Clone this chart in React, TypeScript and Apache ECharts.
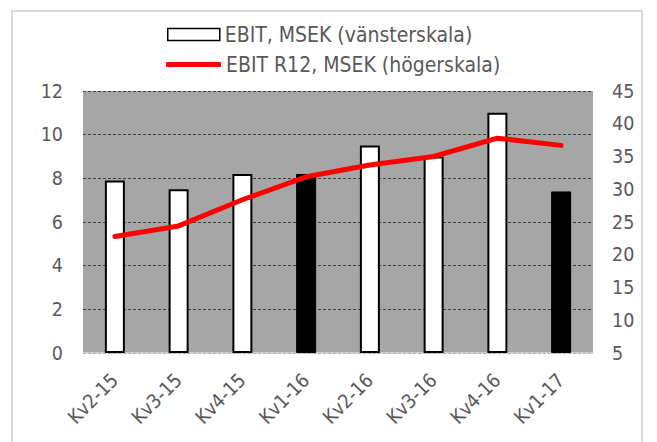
import React, { useEffect, useRef } from "react";
import * as echarts from "echarts";

const categories = ["Kv2-15", "Kv3-15", "Kv4-15", "Kv1-16", "Kv2-16", "Kv3-16", "Kv4-16", "Kv1-17"];
const ebit = [7.9, 7.5, 8.2, 8.2, 9.5, 9.0, 11.0, 7.4];
const ebitR12 = [22.8, 24.4, 28.4, 31.9, 33.7, 35.0, 37.8, 36.7];
const highlighted = [false, false, false, true, false, false, false, true];
const leftTicks = { min: 0, max: 12, interval: 2 };
const rightTicks = { min: 5, max: 45, interval: 5 };
const barName = "EBIT, MSEK (vänsterskala)";
const lineName = "EBIT R12, MSEK (högerskala)";

const FONT = "DejaVu Sans Condensed, DejaVu Sans, sans-serif";
const TEXT = "#595959";

export default function App() {
  const ref = useRef<HTMLDivElement>(null);
  useEffect(() => {
    if (!ref.current) return;
    const chart = echarts.init(ref.current, null, { renderer: "svg" });
    chart.setOption({
      animation: false,
      backgroundColor: "#ffffff",
      textStyle: { fontFamily: FONT },
      graphic: [
        {
          type: "rect",
          shape: { x: 12, y: 11, width: 630, height: 450 },
          style: { fill: "none", stroke: "#d9d9d9", lineWidth: 2 },
          silent: true,
        },
      ],
      legend: [
        {
          data: [{ name: barName, icon: "rect", itemStyle: { color: "#ffffff", borderColor: "#000000", borderWidth: 1.5 } }],
          left: 167,
          top: 24,
          padding: 0,
          itemWidth: 52,
          itemHeight: 12,
          itemGap: 5,
          textStyle: { color: TEXT, fontSize: 21, fontFamily: FONT },
        },
        {
          data: [{ name: lineName, icon: "roundRect", itemStyle: { color: "#ff0000" } }],
          left: 166,
          top: 54,
          padding: 0,
          itemWidth: 55,
          itemHeight: 5,
          textStyle: { color: TEXT, fontSize: 21, fontFamily: FONT },
        },
      ],
      grid: {
        left: 83,
        right: 64,
        top: 91,
        bottom: 89,
        show: true,
        backgroundColor: "#a6a6a6",
        borderWidth: 0,
        outerBoundsMode: "none",
        containLabel: false,
      },
      xAxis: {
        type: "category",
        data: categories,
        axisLine: { show: true, lineStyle: { color: "#d9d9d9", width: 1.5 } },
        axisTick: { show: false },
        axisLabel: { color: TEXT, fontSize: 19.5, rotate: 45, margin: 24, fontFamily: FONT, interval: 0 },
      },
      yAxis: [
        {
          type: "value",
          min: leftTicks.min,
          max: leftTicks.max,
          interval: leftTicks.interval,
          axisLine: { show: false },
          axisTick: { show: false },
          axisLabel: { color: TEXT, fontSize: 19.5, margin: 20, fontFamily: FONT },
          splitLine: { show: true, lineStyle: { color: "#404040", type: [3, 2], width: 1 } },
        },
        {
          type: "value",
          min: rightTicks.min,
          max: rightTicks.max,
          interval: rightTicks.interval,
          axisLine: { show: false },
          axisTick: { show: false },
          axisLabel: { color: TEXT, fontSize: 19.5, margin: 19, fontFamily: FONT },
          splitLine: { show: false },
        },
      ],
      series: [
        {
          name: barName,
          type: "bar",
          yAxisIndex: 0,
          barWidth: 20,
          itemStyle: { color: "#ffffff", borderColor: "#000000", borderWidth: 2 },
          data: ebit.map((v, i) => ({
            value: v,
            itemStyle: highlighted[i]
              ? { color: "#000000", borderColor: "#000000", borderWidth: 1 }
              : { color: "#ffffff", borderColor: "#000000", borderWidth: 2 },
          })),
        },
        {
          name: lineName,
          type: "line",
          yAxisIndex: 1,
          data: ebitR12,
          symbol: "none",
          lineStyle: { color: "#ff0000", width: 5, cap: "round", join: "round" },
          itemStyle: { color: "#ff0000" },
        },
      ],
    });
    return () => chart.dispose();
  }, []);
  return <div ref={ref} style={{ position: "absolute", left: 0, top: 0, width: 657, height: 442 }} />;
}
